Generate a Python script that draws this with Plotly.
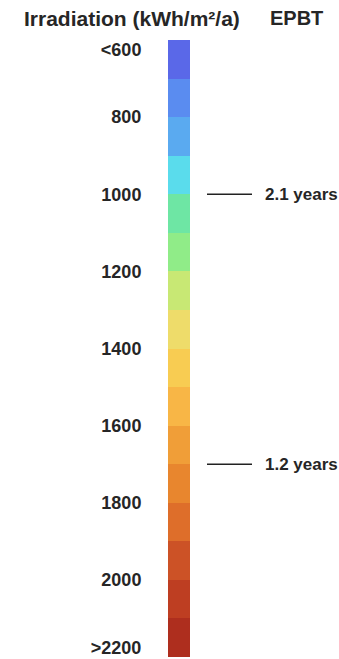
import plotly.graph_objects as go

# irradiation bins (kWh/m2/a), 100 wide each, and their colours
bin_start = [600, 700, 800, 900, 1000, 1100, 1200, 1300,
             1400, 1500, 1600, 1700, 1800, 1900, 2000, 2100]
bin_width = [100] * 16
bin_colors = ["#5a68e8", "#5a8cf0", "#5aaaf0", "#5adcec",
              "#6ee6a4", "#90ec88", "#c8e874", "#eedc6a",
              "#f8cc52", "#f8b646", "#f09e38", "#e8862e",
              "#de6e2a", "#cc5226", "#be3e22", "#ae2e1e"]

tick_vals = [626, 800, 1000, 1200, 1400, 1600, 1800, 2000, 2177]
tick_text = ["<600", "800", "1000", "1200", "1400", "1600", "1800", "2000", ">2200"]

# energy payback time markers
epbt_irr = [1000, 1700]
epbt_text = ["2.1 years", "1.2 years"]

W, H = 339, 659
L, R, T, B = 168, 149, 40, 2
pw = W - L - R
FONT = "Liberation Sans"
INK = "#262626"


def px_x(px):
    return (px - L) / pw


fig = go.Figure()
fig.add_trace(go.Bar(
    x=[0] * len(bin_start),
    y=bin_width,
    base=bin_start,
    width=1,
    marker=dict(color=bin_colors, line=dict(width=0)),
    hoverinfo="skip",
))

for irr, txt in zip(epbt_irr, epbt_text):
    fig.add_shape(type="line", xref="paper", yref="y",
                  x0=px_x(207), x1=px_x(252), y0=irr, y1=irr,
                  line=dict(color="#222222", width=1.5))
    fig.add_annotation(xref="paper", yref="y", x=px_x(263), y=irr,
                       text="<b>%s</b>" % txt, showarrow=False,
                       xanchor="left", yanchor="middle",
                       font=dict(family=FONT, size=17, color=INK))

fig.add_annotation(xref="paper", yref="paper", x=px_x(132), y=1 + 22 / (H - T - B),
                   text="<b>Irradiation (kWh/m²/a)</b>", showarrow=False,
                   xanchor="center", yanchor="middle",
                   font=dict(family=FONT, size=21, color=INK))
fig.add_annotation(xref="paper", yref="paper", x=px_x(296), y=1 + 22 / (H - T - B),
                   text="<b>EPBT</b>", showarrow=False,
                   xanchor="center", yanchor="middle",
                   font=dict(family=FONT, size=20, color=INK))

fig.update_layout(
    width=W, height=H,
    margin=dict(l=L, r=R, t=T, b=B, pad=0),
    paper_bgcolor="white", plot_bgcolor="white",
    showlegend=False, bargap=0,
    xaxis=dict(range=[-0.5, 0.5], visible=False, fixedrange=True),
    yaxis=dict(range=[2200, 600], tickvals=tick_vals,
               ticktext=["<b>%s</b>" % t for t in tick_text],
               showgrid=False, zeroline=False, showline=False, fixedrange=True,
               ticks="outside", ticklen=22, tickcolor="rgba(0,0,0,0)",
               tickfont=dict(family=FONT, size=18, color=INK)),
)

fig.write_html("out.html", config={"displayModeBar": False},
               post_script="document.body.style.margin='0';")
